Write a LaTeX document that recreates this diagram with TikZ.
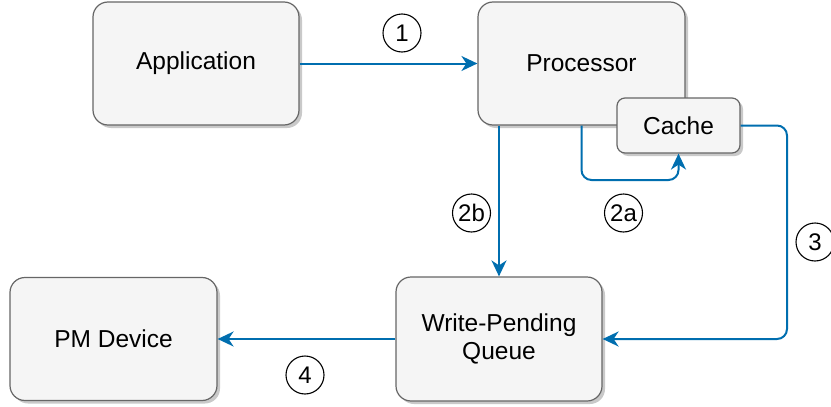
\documentclass[tikz,border=0pt]{standalone}
\usepackage{fontspec}
\setmainfont{Liberation Sans}
\usetikzlibrary{arrows.meta,shadows}
\definecolor{flow}{HTML}{006EAF}
\definecolor{boxfill}{HTML}{F5F5F5}
\definecolor{boxline}{HTML}{666666}
\tikzset{
  block/.style={draw=boxline, fill=boxfill, line width=1.2pt, rounded corners=15pt,
    align=center, font=\fontsize{24.5}{28}\selectfont, inner sep=0pt,
    drop shadow={shadow xshift=3pt, shadow yshift=-3pt, opacity=0.3, fill=black!70}},
  smallblock/.style={block, rounded corners=8pt},
  flowline/.style={draw=flow, line width=2pt, rounded corners=10pt,
    -{Stealth[length=16pt, width=15pt, inset=5pt]}},
  step label/.style={circle, draw=black, line width=1.1pt, fill=white,
    minimum size=38pt, inner sep=0pt, font=\fontsize{24}{28}\selectfont},
}
\begin{document}
\begin{tikzpicture}[x=1pt, y=-1pt]
  \useasboundingbox (0,0) rectangle (831,407);
  \begin{scope}
    \clip (0,0) rectangle (831,407);

    % components
    \node[block, minimum width=206pt, minimum height=123pt] (app)  at (196,63.5)  {Application};
    \node[block, minimum width=207pt, minimum height=123pt] (proc) at (581.5,63.5) {Processor};
    \node[smallblock, minimum width=123pt, minimum height=55pt] (cache) at (678.5,125.5) {Cache};
    \node[block, minimum width=206pt, minimum height=124pt] (wpq)  at (499,339)   {Write-Pending\\Queue};
    \node[block, minimum width=207pt, minimum height=123pt] (pm)   at (113.5,339) {PM Device};

    % routing points
    \coordinate (loopA)  at (581.5,180);
    \coordinate (sideC)  at (787,230);

    % data paths
    \draw[flowline] (app.east) -- (proc.west);
    \draw[flowline] (wpq.north |- proc.south) -- (wpq.north);
    \draw[flowline] (proc.south) -- (loopA) -| (cache.south);
    \draw[flowline] (cache.east) -- (cache.east -| sideC) -- (sideC |- wpq.east) -- (wpq.east);
    \draw[flowline] (wpq.west) -- (pm.east);

    % step numbers
    \node[step label] (s1)  at (402,33)    {1};
    \node[step label] (s2b) at (471.5,213) {2b};
    \node[step label] (s2a) at (623.5,213) {2a};
    \node[step label] (s3)  at (815,242)   {3};
    \node[step label] (s4)  at (305,375)   {4};
  \end{scope}
\end{tikzpicture}
\end{document}
